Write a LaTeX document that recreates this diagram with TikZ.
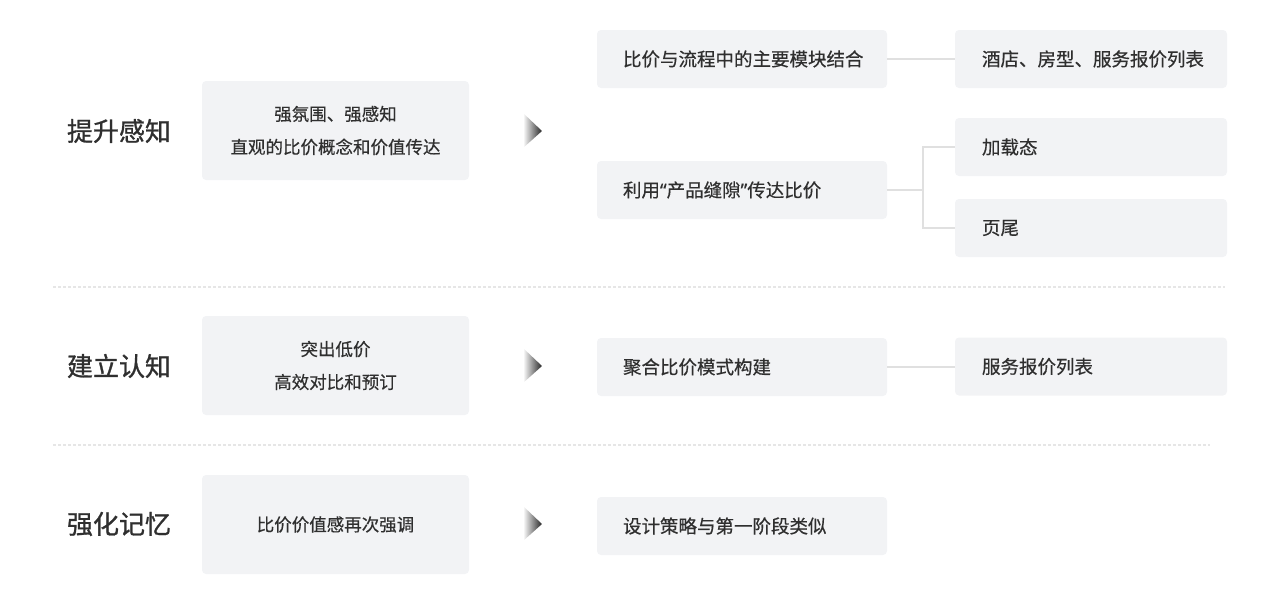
\documentclass[tikz,border=0pt]{standalone}
\usepackage{fontspec}
\setmainfont{Noto Sans CJK SC}
\newfontfamily\cjkfont{Noto Sans CJK SC}[FakeBold=0.5]
\newfontfamily\cjktitle{Noto Sans CJK SC}[FakeBold=1.0]
\newfontfamily\latinq{Noto Sans}[FakeBold=0.5]
\definecolor{boxc}{HTML}{F2F3F5}
\definecolor{txtc}{HTML}{2F2F2F}
\definecolor{linec}{HTML}{E0E0E0}
\definecolor{dashc}{HTML}{E6E6E6}
\tikzset{
  basebox/.style={fill=boxc, rounded corners=4pt, draw=none, text=txtc, inner ysep=0pt},
  leftbox/.style={basebox, font=\cjkfont\fontsize{17.5}{33}\selectfont, minimum width=267pt, minimum height=99pt, align=center, inner xsep=0pt},
  midbox/.style={basebox, font=\cjkfont\fontsize{18.5}{33}\selectfont, minimum height=58pt, text width=238pt, inner xsep=26pt, align=left},
  rightbox/.style={basebox, font=\cjkfont\fontsize{18.5}{33}\selectfont, minimum height=58pt, text width=218pt, inner xsep=27pt, align=left},
  title/.style={text=txtc, font=\cjktitle\fontsize{26}{30}\selectfont, inner sep=0pt},
  conn/.style={draw=linec, line width=1.2pt},
  sep/.style={draw=dashc, line width=1.3pt, dash pattern=on 3pt off 2pt},
}
\begin{document}
\begin{tikzpicture}[x=1pt,y=-1pt]
\useasboundingbox (0,0) rectangle (1280,603);
% separators
\draw[sep] (53,287) -- (1225,287);
\draw[sep] (53,445) -- (1210,445);
% titles
\node[title] (t1) at (119,131) {提升感知};
\node[title] (t2) at (119,366) {建立认知};
\node[title] (t3) at (119,524) {强化记忆};
% left boxes
\node[leftbox] (l1) at (335.5,130.5) {强氛围、强感知\\直观的比价概念和价值传达};
\node[leftbox] (l2) at (335.5,365.5) {突出低价\\高效对比和预订};
\node[leftbox] (l3) at (335.5,524.5) {比价价值感再次强调};
% arrows
\foreach \yy in {131,366,524}{
  \shade[left color=white, right color=black!85] (523,\yy-18) -- (542,\yy) -- (523,\yy+17) -- cycle;
}
% middle boxes
\node[midbox] (m1a) at (742,59) {比价与流程中的主要模块结合};
\node[midbox] (m1b) at (742,190) {利用{\latinq “}产品缝隙{\latinq ”}传达比价};
\node[midbox] (m2) at (742,367) {聚合比价模式构建};
\node[midbox] (m3) at (742,526) {设计策略与第一阶段类似};
% right boxes
\node[rightbox] (r1a) at (1091,59) {酒店、房型、服务报价列表};
\node[rightbox] (r1b) at (1091,147) {加载态};
\node[rightbox] (r1c) at (1091,228) {页尾};
\node[rightbox] (r2) at (1091,366.5) {服务报价列表};
% connectors
\draw[conn] (m1a.east) -- (r1a.west);
\draw[conn] (m2.east) -- (r2.west |- m2.east);
\coordinate (fork) at (923,190);
\draw[conn] (m1b.east) -- (fork);
\draw[conn] (r1b.west) -| (fork) |- (r1c.west);
\end{tikzpicture}
\end{document}
